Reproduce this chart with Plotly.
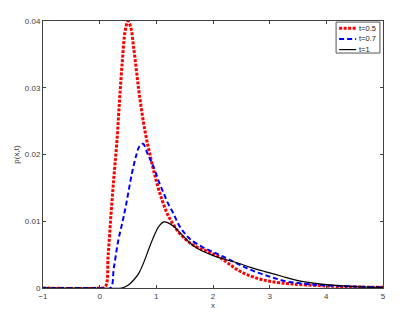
import plotly.graph_objects as go

# t = 0.5
x_05 = [-1.0, 0.0, 0.1, 0.15, 0.2, 0.25, 0.3, 0.35, 0.4, 0.45, 0.5, 0.55, 0.6, 0.65, 0.7, 0.8,
        0.9, 1.0, 1.1, 1.2, 1.3, 1.4, 1.5, 1.6, 1.7, 1.8, 1.9, 2.0, 2.1, 2.2, 2.3, 2.4,
        2.5, 2.6, 2.8, 3.0, 3.4, 4.0, 4.5, 5.0]
p_05 = [0.0, 0.0, 0.0002, 0.005, 0.011, 0.0165, 0.0215, 0.028, 0.034, 0.0385, 0.0400, 0.0390,
        0.0360, 0.0325, 0.029, 0.0235, 0.0195, 0.016, 0.0132, 0.011, 0.0095, 0.0083, 0.0074,
        0.0067, 0.0062, 0.0058, 0.0055, 0.0051, 0.0047, 0.0041, 0.0035, 0.0029, 0.0024,
        0.0020, 0.0014, 0.0010, 0.0006, 0.0003, 0.00015, 0.0001]

# t = 0.7
x_07 = [-1.0, 0.0, 0.19, 0.25, 0.33, 0.4, 0.46, 0.57, 0.65, 0.7, 0.765, 0.85, 0.95, 1.05,
        1.13, 1.2, 1.31, 1.4, 1.5, 1.6, 1.8, 2.0, 2.13, 2.3, 2.49, 2.7, 3.0, 3.3, 3.67,
        4.26, 5.0]
p_07 = [0.0, 0.0, 0.0, 0.003, 0.0072, 0.0098, 0.0122, 0.0172, 0.0200, 0.0212, 0.0216,
        0.0200, 0.0182, 0.0158, 0.0142, 0.0128, 0.0110, 0.0094, 0.0082, 0.0073, 0.0062,
        0.0054, 0.0049, 0.0042, 0.0034, 0.0026, 0.0017, 0.0010, 0.0006, 0.0003, 0.0001]

# t = 1
x_1 = [-1.0, 0.0, 0.39, 0.5, 0.6, 0.69, 0.8, 0.86, 0.98, 1.05, 1.13, 1.2, 1.31, 1.45, 1.6,
       1.75, 1.9, 2.05, 2.25, 2.45, 2.66, 2.9, 3.2, 3.5, 4.0, 4.5, 5.0]
p_1 = [0.0, 0.0, 0.0, 0.0004, 0.0012, 0.0022, 0.0043, 0.0057, 0.0082, 0.0093, 0.0099,
       0.0098, 0.0092, 0.0080, 0.0067, 0.0058, 0.0052, 0.0047, 0.0042, 0.0037, 0.0031,
       0.0025, 0.0018, 0.0011, 0.0005, 0.0002, 0.0001]

names = ["t=0.5", "t=0.7", "t=1"]
colors = ["#ff0000", "#0000ff", "#000000"]
widths = [3, 2, 1.2]
dashes = ["3px,1.5px", "5px,3px", "solid"]

x_ticks = [-1, 0, 1, 2, 3, 4, 5]
y_ticks = [0, 0.01, 0.02, 0.03, 0.04]
y_labels = ["0", "0.01", "0.02", "0.03", "0.04"]

fig = go.Figure()
for xs, ys, name, c, w, d in zip([x_05, x_07, x_1], [p_05, p_07, p_1], names, colors, widths, dashes):
    fig.add_trace(go.Scatter(x=xs, y=ys, mode="lines", name=name, line_shape="spline",
                             line=dict(color=c, width=w, dash=d), showlegend=False))

# small MATLAB-style legend box (plotly's own legend rows are too tall here)
fig.add_shape(type="rect", xref="paper", yref="paper", x0=0.862, x1=0.991, y0=0.880, y1=0.996,
              line=dict(color="#555555", width=1), fillcolor="white", layer="above")
for i, (name, c, w, d) in enumerate(zip(names, colors, widths, dashes)):
    yy = 0.973 - i * 0.040
    fig.add_shape(type="line", xref="paper", yref="paper", x0=0.871, x1=0.921, y0=yy, y1=yy,
                  line=dict(color=c, width=w, dash=d), layer="above")
    fig.add_annotation(text=name, xref="paper", yref="paper", x=0.924, y=yy, xanchor="left",
                       yanchor="middle", showarrow=False,
                       font=dict(family="Liberation Sans, Arial", size=7.5, color="#222"))

axis_font = dict(family="Liberation Sans, Arial", size=8, color="#404040")
fig.update_xaxes(range=[-1, 5], tickvals=x_ticks, ticks="inside", ticklen=3, tickcolor="#404040",
                 showline=True, linecolor="#404040", linewidth=1, mirror="ticks",
                 showgrid=False, zeroline=False, tickfont=axis_font, automargin=False,
                 title=dict(text="x", font=axis_font, standoff=2))
fig.update_yaxes(range=[0, 0.04], tickvals=y_ticks, ticktext=y_labels, ticks="inside", ticklen=3,
                 tickcolor="#404040", showline=True, linecolor="#404040", linewidth=1,
                 mirror="ticks", showgrid=False, zeroline=False, tickfont=axis_font,
                 automargin=False, title=dict(text="p(x,t)", font=axis_font, standoff=4))
# page body keeps its 8px default margin, so the figure is 8px smaller
fig.update_layout(width=399, height=314, autosize=False,
                  margin=dict(l=35, r=24, t=13, b=34, pad=0),
                  paper_bgcolor="white", plot_bgcolor="white")
fig.write_html("out.html")
